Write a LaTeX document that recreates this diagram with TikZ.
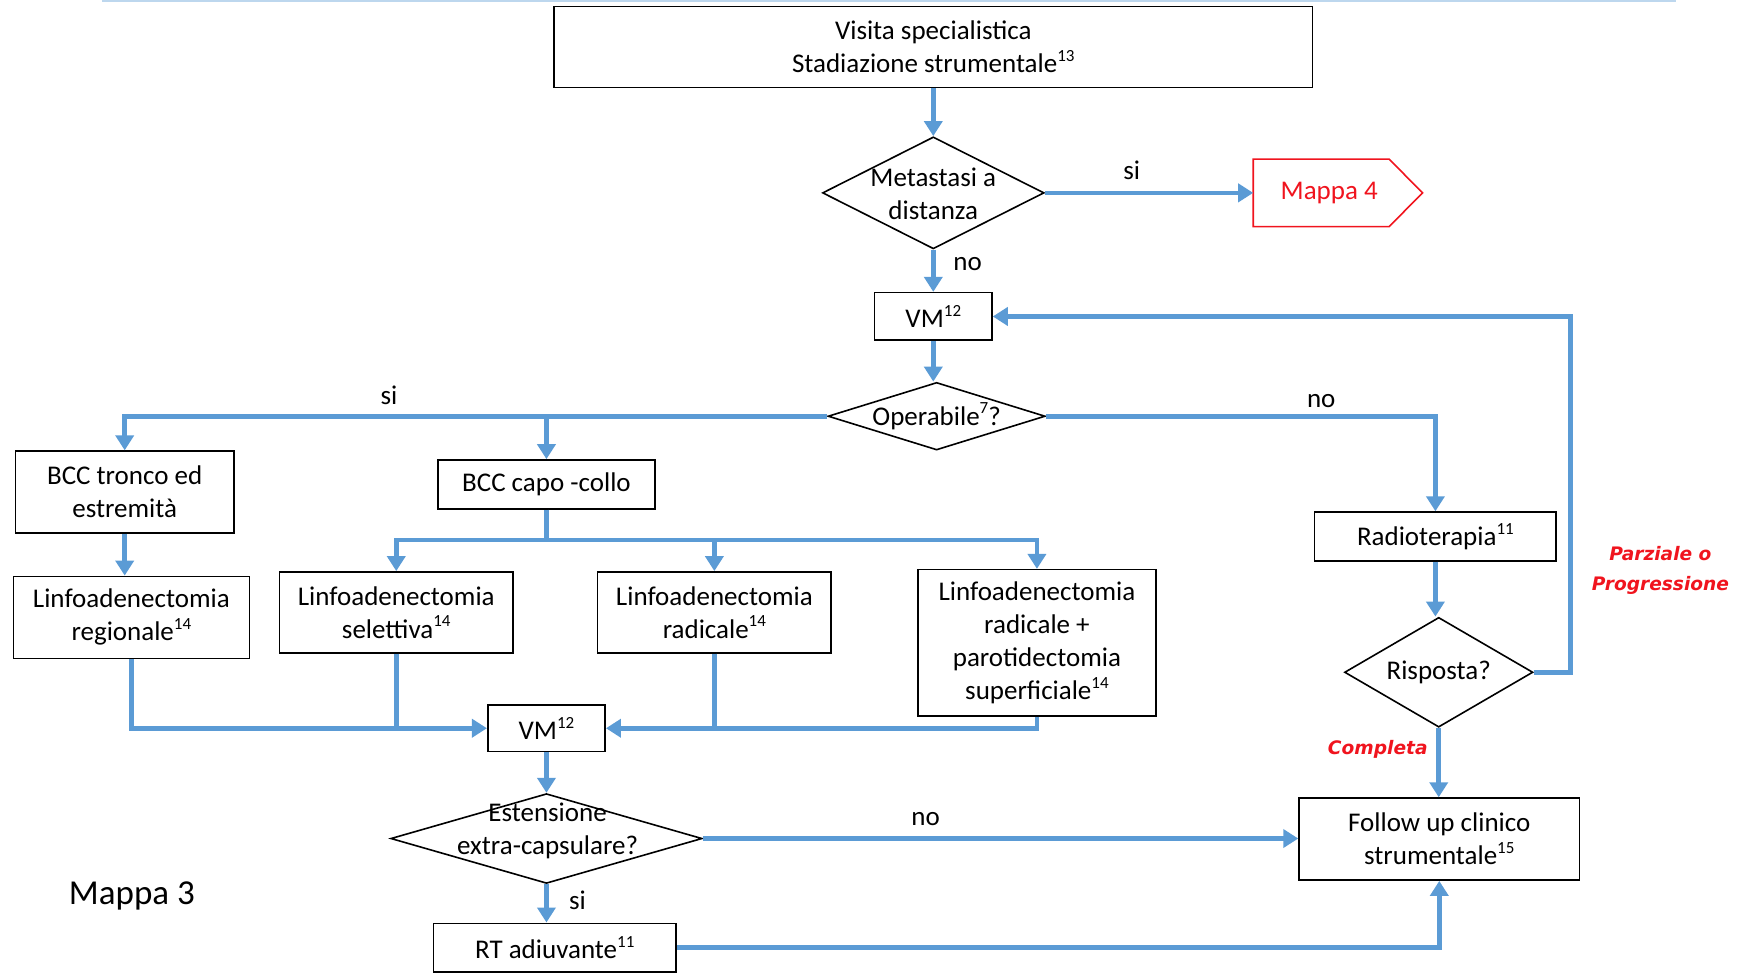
\documentclass[tikz,border=0pt]{standalone}
\usepackage{fontspec}
\setmainfont{Carlito}
\newfontfamily\notefont{DejaVu Sans}
\usetikzlibrary{shapes.geometric,arrows.meta,calc}
\definecolor{flow}{RGB}{91,155,213}
\definecolor{topline}{RGB}{189,215,238}
\definecolor{alert}{RGB}{240,20,30}
% small reference numbers set close to the word
\newcommand{\refnum}[1]{\raisebox{0.42em}{\fontsize{8.5}{8.5}\selectfont #1}}

\begin{document}
\begin{tikzpicture}[x=0.5542pt,y=-0.5542pt,
  every node/.style={font=\fontsize{13.5}{16.5}\selectfont},
  box/.style={draw=black, line width=0.8pt, align=center, inner sep=0pt},
  dia/.style={draw=black, line width=0.8pt, diamond, inner sep=0pt},
  flowline/.style={draw=flow, line width=2.3pt},
  flowarrow/.style={flowline, -{Triangle[width=9pt,length=7.5pt]}},
  lbl/.style={inner sep=1pt},
  redlbl/.style={text=alert, font=\notefont\bfseries\itshape\fontsize{9.3}{15}\selectfont, align=center}]
\useasboundingbox (0,0) rectangle (1568,877);

% thin rule along the top edge
\coordinate (ruleL) at (92,1);
\coordinate (ruleR) at (1512,1);
\draw[topline, line width=1.2pt] (ruleL) -- (ruleR);

% boxes
\node[box, minimum width=379.1pt, minimum height=40.5pt] (top) at (842,42.5) {Visita specialistica\\Stadiazione strumentale\refnum{13}};
\node[box, minimum width=58.7pt, minimum height=23.8pt] (vm1) at (842,285.5) {VM\refnum{12}};
\node[box, minimum width=109.2pt, minimum height=41pt] (tronco) at (112.5,444) {BCC tronco ed\\estremità};
\node[box, minimum width=108.6pt, minimum height=24.4pt] (capo) at (493,437) {BCC capo -collo};
\node[box, minimum width=118pt, minimum height=41pt] (regio) at (118.5,557) {Linfoadenectomia\\regionale\refnum{14}};
\node[box, minimum width=116.9pt, minimum height=40.5pt] (selet) at (357.5,552.5) {Linfoadenectomia\\selettiva\refnum{14}};
\node[box, minimum width=116.9pt, minimum height=40.5pt] (radic) at (644.5,552.5) {Linfoadenectomia\\radicale\refnum{14}};
\node[box, minimum width=119.2pt, minimum height=73.2pt] (parot) at (935.5,580) {Linfoadenectomia\\radicale +\\parotidectomia\\superficiale\refnum{14}};
\node[box, minimum width=58.7pt, minimum height=23.3pt] (vm2) at (493,657) {VM\refnum{12}};
\node[box, minimum width=120.8pt, minimum height=24.4pt] (radio) at (1295,484) {Radioterapia\refnum{11}};
\node[box, minimum width=140.2pt, minimum height=41pt] (follow) at (1298.5,757) {Follow up clinico\\strumentale\refnum{15}};
\node[box, minimum width=121.4pt, minimum height=24.4pt] (rt) at (500.5,855) {RT adiuvante\refnum{11}};

% decisions
\node[dia, minimum width=110.8pt, minimum height=56pt] (meta) at (842,174) {};
\node[align=center, inner sep=0pt] (metaT) at (842,175) {Metastasi a\\distanza};
\node[dia, minimum width=108.6pt, minimum height=33.8pt] (oper) at (845,375.5) {};
\node[inner sep=0pt] (operT) at (845,375.5) {Operabile\refnum{7}?};
\node[dia, minimum width=155.7pt, minimum height=44.9pt] (este) at (493,756.5) {};
\node[align=center, inner sep=0pt] (esteT) at (494,750) {Estensione\\extra-capsulare?};
\node[dia, minimum width=94.2pt, minimum height=54.9pt] (risp) at (1298,606.5) {};
\node[inner sep=0pt] (rispT) at (1298,606.5) {Risposta?};

% link to the next map
\node[minimum width=67.6pt, minimum height=33.3pt, inner sep=0pt, text=alert] (m4) at (1192,174) {\hspace{8pt}Mappa 4};
\draw[alert, line width=0.8pt] (m4.north west) -- (m4.north east) -- ($(m4.east)+(30,0)$) -- (m4.south east) -- (m4.south west) -- cycle;

% connectors
\draw[flowarrow] (top.south) -- (meta.north);
\draw[flowarrow] (meta.east) -- (m4.west);
\draw[flowarrow] (meta.south) -- (vm1.north);
\draw[flowarrow] (vm1.south) -- (vm1.south |- oper.north);
\draw[flowarrow] (oper.west) -| (tronco.north);
\draw[flowarrow] (capo.north |- oper.west) -- (capo.north);
\draw[flowarrow] (oper.east) -| (radio.north);
\draw[flowarrow] (tronco.south) -- (tronco.south |- regio.north);

\coordinate (split) at (493,487);
\draw[flowline] (capo.south) -- (split);
\draw[flowarrow] (split) -| (selet.north);
\draw[flowarrow] (split) -| (radic.north);
\draw[flowarrow] (split) -| (parot.north);

\draw[flowarrow] (regio.south) |- (vm2.west);
\draw[flowline] (selet.south) -- (selet.south |- vm2.west);
\draw[flowarrow] (parot.south) |- (vm2.east);
\draw[flowline] (radic.south) -- (radic.south |- vm2.east);

\draw[flowarrow] (vm2.south) -- (este.north);
\draw[flowarrow] (este.east) -- (este.east -| follow.west);
\draw[flowarrow] (este.south) -- (este.south |- rt.north);
\draw[flowarrow] (rt.east) -| (follow.south);

\draw[flowarrow] (radio.south) -- (radio.south |- risp.north);
\draw[flowarrow] (risp.south) -- (risp.south |- follow.north);
\coordinate (loop) at (1417,606.5);
\draw[flowarrow] (risp.east) -- (loop) |- (vm1.east);

% branch labels
\node[lbl] (l1) at (1021,154) {si};
\node[lbl] (l2) at (873,238) {no};
\node[lbl] (l3) at (351,357) {si};
\node[lbl] (l4) at (1192,362) {no};
\node[lbl] (l5) at (835,739) {no};
\node[lbl] (l6) at (521,812) {si};
\node[redlbl] (l7) at (1498,515) {Parziale o\\Progressione};
\node[redlbl] (l8) at (1243,676) {Completa};

% map title
\node[font=\fontsize{17.5}{20}\selectfont] (title) at (119,808) {Mappa 3};
\end{tikzpicture}
\end{document}
